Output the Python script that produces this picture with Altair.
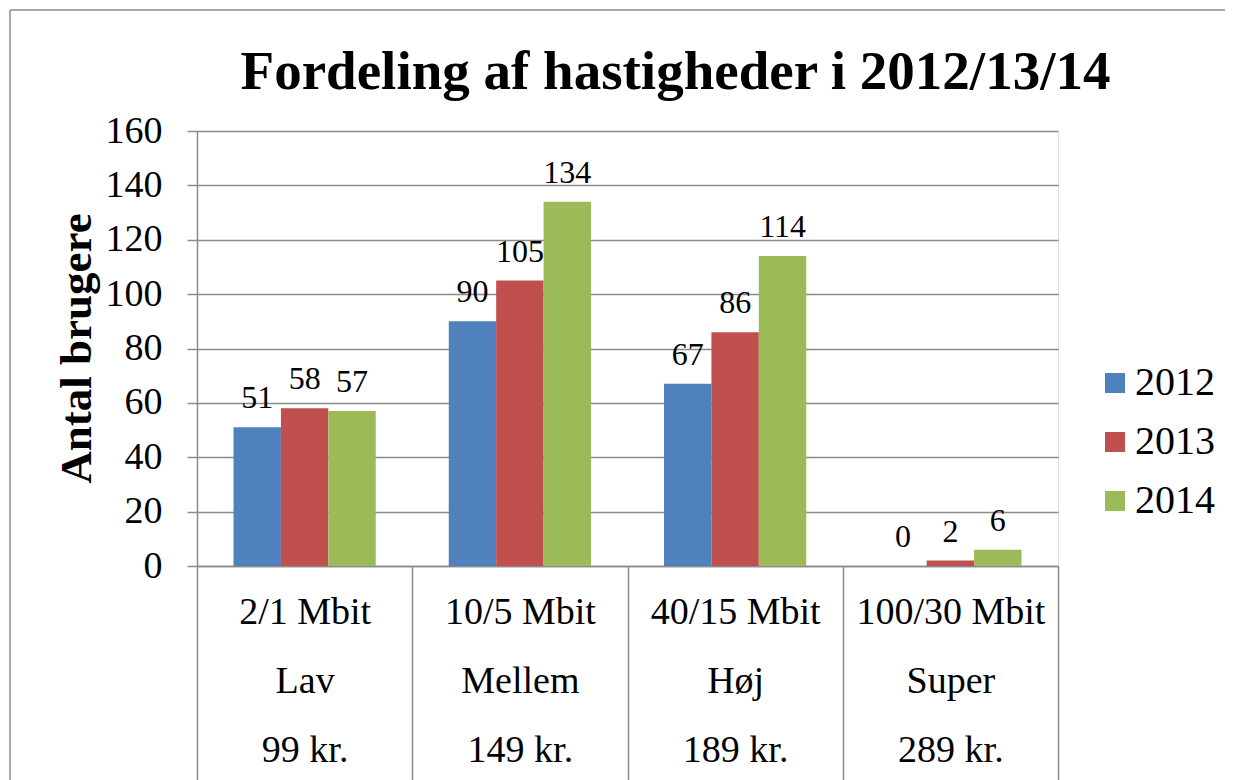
import altair as alt
import pandas as pd

categories = ["2/1 Mbit|Lav|99 kr.", "10/5 Mbit|Mellem|149 kr.", "40/15 Mbit|Høj|189 kr.", "100/30 Mbit|Super|289 kr."]
years = ["2012", "2013", "2014"]
v2012 = [51, 90, 67, 0]
v2013 = [58, 105, 86, 2]
v2014 = [57, 134, 114, 6]
colors = ["#4F81BD", "#C0504D", "#9BBB59"]
y_ticks = [0, 20, 40, 60, 80, 100, 120, 140, 160]

rows = []
for yr, vals in zip(years, [v2012, v2013, v2014]):
    for c, v in zip(categories, vals):
        rows.append({"cat": c, "year": yr, "val": v})
df = pd.DataFrame(rows)

FONT = "Liberation Serif"
GRID = "#8a8a8a"

x_enc = alt.X(
    "cat:N",
    sort=categories,
    title=None,
    scale=alt.Scale(paddingInner=0, paddingOuter=0),
    axis=alt.Axis(
        labelExpr="split(datum.label, '|')",
        labelFont=FONT,
        labelFontSize=38,
        labelLineHeight=69,
        labelBaseline="top",
        labelPadding=-187,
        labelColor="black",
        labelAngle=0,
        labelLimit=0,
        tickBand="extent",
        tickSize=214,
        tickColor=GRID,
        tickWidth=1.5,
        domainColor=GRID,
        domainWidth=1.5,
        grid=False,
    ),
)

y_enc = alt.Y(
    "val:Q",
    title="Antal brugere",
    scale=alt.Scale(domain=[0, 160], nice=False),
    axis=alt.Axis(
        values=y_ticks,
        labelFont=FONT,
        labelFontSize=38,
        labelColor="black",
        labelPadding=25,
        tickSize=10,
        tickColor=GRID,
        tickWidth=1.5,
        domainColor=GRID,
        domainWidth=1.5,
        grid=True,
        gridColor=GRID,
        gridWidth=1.5,
        titleFont=FONT,
        titleFontSize=45,
        titleFontWeight="bold",
        titleColor="black",
        titleX=-121,
        titleY=217,
        titleBaseline="middle",
        titleAngle=-90,
        titleAlign="center",
    ),
)

xoff = alt.XOffset("year:N", sort=years, scale=alt.Scale(paddingInner=0, paddingOuter=0.77))

bars = alt.Chart(df).mark_bar().encode(
    x=x_enc,
    y=y_enc,
    xOffset=xoff,
    color=alt.Color(
        "year:N",
        sort=years,
        scale=alt.Scale(domain=years, range=colors),
        legend=alt.Legend(
            title=None,
            orient="none",
            legendX=898,
            legendY=232,
            padding=0,
            symbolType="square",
            symbolSize=400,
            symbolStrokeWidth=0,
            labelFont=FONT,
            labelFontSize=40,
            labelColor="black",
            labelOffset=0,
            rowPadding=19,
        ),
    ),
)

labels = alt.Chart(df).mark_text(
    font=FONT, fontSize=32, color="black", baseline="alphabetic", dy=-19
).encode(
    x=alt.X("cat:N", sort=categories),
    y=alt.Y("val:Q"),
    xOffset=alt.XOffset("year:N", sort=years),
    text=alt.Text("val:Q"),
)

frame_top = alt.Chart(pd.DataFrame({"a": [0]})).mark_rule(color=GRID, strokeWidth=1.5).encode(
    x=alt.value(-187), x2=alt.value(1060), y=alt.value(-121)
)
frame_left = alt.Chart(pd.DataFrame({"a": [0]})).mark_rule(color=GRID, strokeWidth=1.5).encode(
    x=alt.value(-187), y=alt.value(-121), y2=alt.value(660)
)

chart = (
    alt.layer(bars, labels, frame_top, frame_left)
    .properties(
        width=861,
        height=435,
        padding={"left": 189, "top": 123, "right": 167, "bottom": 214},
        autosize=alt.AutoSizeParams(type="none"),
        title=alt.TitleParams(
            "Fordeling af hastigheder i 2012/13/14",
            font=FONT,
            fontSize=55,
            fontWeight="bold",
            color="black",
            anchor="middle",
            baseline="alphabetic",
            dx=48,
            dy=135,
            offset=0,
        ),
    )
    .configure_view(stroke=None)
    .configure(background="white")
)

chart.save("out.html", embed_options={"renderer": "svg", "actions": False})
